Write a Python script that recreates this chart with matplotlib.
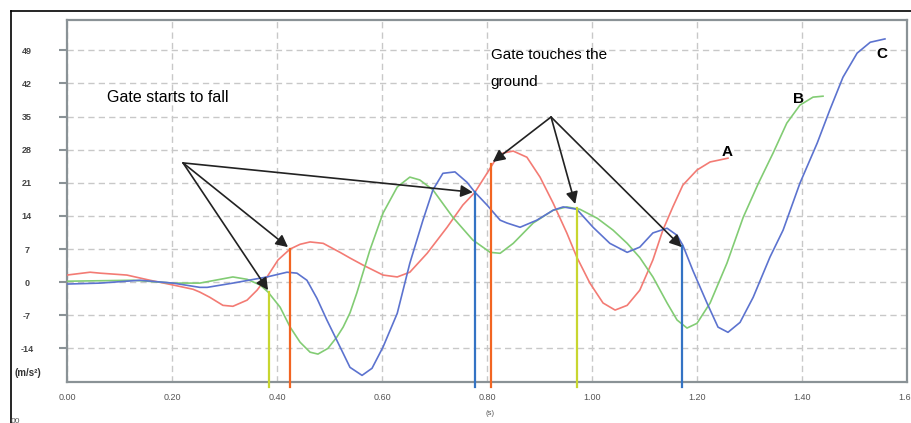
import numpy as np
import matplotlib
matplotlib.use("Agg")
import matplotlib.pyplot as plt
from matplotlib.lines import Line2D

plt.rcParams['font.family'] = ['Liberation Sans', 'DejaVu Sans']

# curve A (red)
t_a = [0.0, 0.044, 0.063, 0.114, 0.158, 0.202, 0.24, 0.253, 0.272, 0.297, 0.316, 0.343, 0.362,
       0.381, 0.402, 0.425, 0.444, 0.463, 0.488, 0.52, 0.539, 0.564, 0.602, 0.629, 0.653, 0.686,
       0.724, 0.754, 0.777, 0.8, 0.819, 0.831, 0.85, 0.876, 0.901, 0.926, 0.952, 0.971, 0.996,
       1.021, 1.044, 1.067, 1.091, 1.116, 1.135, 1.154, 1.173, 1.2, 1.225, 1.259]
v_a = [1.5, 2.1, 1.9, 1.5, 0.4, -0.6, -1.5, -2.1, -3.2, -4.9, -5.1, -3.8, -1.7,
       1.1, 4.7, 7.0, 8.0, 8.5, 8.2, 6.3, 5.1, 3.6, 1.5, 1.1, 2.1, 6.1,
       11.6, 16.3, 19.0, 23.0, 26.4, 27.3, 27.7, 26.4, 22.2, 16.7, 10.4, 5.3, -0.2,
       -4.4, -5.9, -4.9, -1.7, 4.7, 11.0, 15.9, 20.5, 23.7, 25.4, 26.2]

# curve B (green)
t_b = [0.0, 0.126, 0.202, 0.253, 0.316, 0.343, 0.368, 0.383, 0.406, 0.425, 0.444, 0.463, 0.478,
       0.497, 0.514, 0.526, 0.539, 0.552, 0.577, 0.602, 0.629, 0.653, 0.672, 0.697, 0.735, 0.773,
       0.806, 0.825, 0.85, 0.888, 0.926, 0.952, 0.977, 1.01, 1.04, 1.067, 1.091, 1.116, 1.143,
       1.162, 1.181, 1.2, 1.225, 1.257, 1.288, 1.317, 1.345, 1.371, 1.396, 1.421, 1.44]
v_b = [0.2, 0.4, -0.2, -0.2, 1.1, 0.6, -0.6, -2.1, -5.3, -9.5, -12.7, -14.8, -15.2,
       -14.0, -11.6, -9.5, -6.5, -2.3, 6.8, 14.6, 20.1, 22.2, 21.6, 19.5, 13.7, 8.9,
       6.3, 6.1, 8.2, 12.5, 15.2, 15.9, 15.4, 13.5, 11.0, 8.2, 5.2, 1.1, -4.4,
       -8.0, -9.7, -8.7, -4.4, 4.0, 13.7, 20.9, 27.3, 33.6, 37.4, 39.1, 39.3]

# curve C (blue)
t_c = [0.0, 0.063, 0.139, 0.202, 0.253, 0.267, 0.316, 0.381, 0.419, 0.438, 0.457, 0.476, 0.495,
       0.514, 0.539, 0.562, 0.581, 0.602, 0.629, 0.653, 0.678, 0.697, 0.716, 0.739, 0.762, 0.777,
       0.8, 0.825, 0.838, 0.863, 0.895, 0.926, 0.945, 0.971, 1.002, 1.034, 1.067, 1.091, 1.116,
       1.143, 1.162, 1.173, 1.192, 1.219, 1.24, 1.259, 1.282, 1.307, 1.339, 1.364, 1.396, 1.429,
       1.453, 1.478, 1.505, 1.53, 1.558]
v_c = [-0.4, -0.2, 0.4, -0.2, -1.1, -1.1, -0.2, 1.1, 2.1, 1.9, 0.4, -3.4, -8.0,
       -12.3, -18.0, -19.7, -18.2, -13.7, -6.6, 4.0, 13.1, 19.5, 23.0, 23.3, 21.1, 19.0,
       16.3, 13.1, 12.5, 11.6, 13.1, 15.2, 15.9, 15.4, 11.6, 8.2, 6.3, 7.4, 10.4,
       11.4, 9.9, 7.8, 2.5, -4.4, -9.5, -10.6, -8.5, -3.2, 5.3, 11.0, 20.9, 29.4,
       36.4, 43.3, 48.4, 50.7, 51.4]

# event markers: time, value at top
mark_t = [0.385, 0.425, 0.777, 0.807, 0.971, 1.171]
mark_v = [-2.0, 7.0, 19.0, 25.0, 15.6, 7.6]
mark_col = ['#c8d630', '#f26522', '#3473c4', '#f26522', '#c8d630', '#3473c4']

# arrows
fall_src = (0.221, 25.2)
fall_dst = [(0.383, -1.7), (0.421, 7.4), (0.773, 19.0)]
ground_src = (0.922, 34.9)
ground_dst = [(0.811, 25.4), (0.968, 16.5), (1.171, 7.4)]

x_ticks = [0.0, 0.2, 0.4, 0.6, 0.8, 1.0, 1.2, 1.4, 1.6]
y_ticks = [-14, -7, 0, 7, 14, 21, 28, 35, 42, 49]

W, H = 912, 423
fig = plt.figure(figsize=(W / 100, H / 100), dpi=100)
ax = fig.add_axes([67 / W, 1 - 382 / H, (907 - 67) / W, (382 - 20) / H])

ax.plot(t_a, v_a, color='#f37b74', lw=1.2, zorder=3)
ax.plot(t_b, v_b, color='#82cc74', lw=1.2, zorder=3)
ax.plot(t_c, v_c, color='#5c73cf', lw=1.2, zorder=3)

ymin, ymax = -21.1, 55.4
for t, v, c in zip(mark_t, mark_v, mark_col):
    ax.plot([t, t], [ymin - 1, v], color=c, lw=1.6, zorder=4, clip_on=False)

for src, dsts in [(fall_src, fall_dst), (ground_src, ground_dst)]:
    for d in dsts:
        ax.annotate('', xy=d, xytext=src,
                    arrowprops=dict(arrowstyle='-|>', color='#222222', lw=1.2,
                                    mutation_scale=18, shrinkA=0, shrinkB=0),
                    zorder=5)

ax.text(0.076, 39.1, 'Gate starts to fall', fontsize=11.5, va='center', ha='left')
ax.text(0.808, 48.0, 'Gate touches the', fontsize=11, va='center', ha='left')
ax.text(0.806, 42.2, 'ground', fontsize=11, va='center', ha='left')
ax.text(1.257, 27.5, 'A', fontsize=11, fontweight='bold', ha='center', va='center')
ax.text(1.394, 38.7, 'B', fontsize=11, fontweight='bold', ha='center', va='center')
ax.text(1.552, 48.2, 'C', fontsize=11, fontweight='bold', ha='center', va='center')

ax.set_xlim(0, 1.6)
ax.set_ylim(ymin, ymax)
ax.set_xticks(x_ticks)
ax.set_xticklabels(['%.2f' % x for x in x_ticks], fontsize=6.5, color='#555555')
ax.set_yticks(y_ticks)
ax.set_yticklabels([str(y) for y in y_ticks], fontsize=6.5, color='#444444', fontweight='bold')
for lab in ax.get_yticklabels():
    lab.set_horizontalalignment('center')
ax.tick_params(axis='x', length=0, pad=8)
ax.tick_params(axis='y', length=6, width=1.5, color='#8a9296', pad=23)

ax.grid(True, color='#c8c8c8', linestyle=(0, (4.5, 3)), lw=1.0)
ax.set_axisbelow(True)
for s in ax.spines.values():
    s.set_color('#8a9296')
    s.set_linewidth(1.6)

fig.text(28 / W, 1 - 373 / H, '(m/s²)', fontsize=7, fontweight='bold', color='#333333',
         ha='center', va='center')
fig.text(490 / W, 1 - 413 / H, '(s)', fontsize=5.5, color='#555555', ha='center', va='center')
fig.text(11 / W, 1 - 421 / H, '00', fontsize=6, color='#555555', ha='left', va='center')

# outer frame
fig.add_artist(Line2D([11 / W, 1.0], [1 - 11 / H, 1 - 11 / H], transform=fig.transFigure,
                      color='black', lw=1.2))
fig.add_artist(Line2D([11 / W, 11 / W], [0, 1 - 11 / H], transform=fig.transFigure,
                      color='black', lw=1.2))

fig.savefig('out.png', dpi=100)
